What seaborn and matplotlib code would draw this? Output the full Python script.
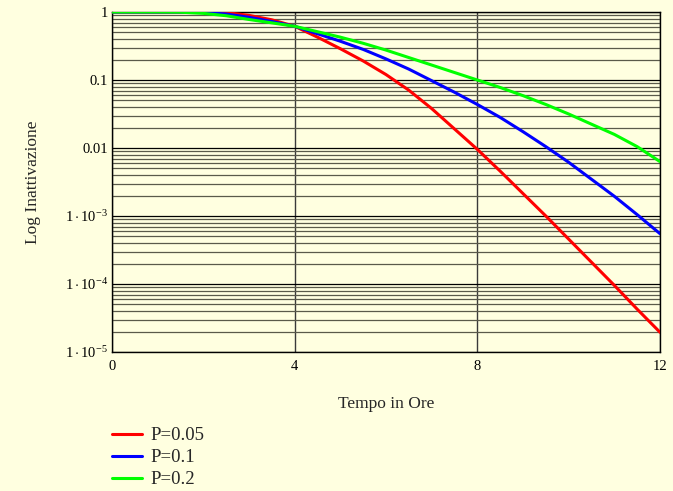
import numpy as np
import pandas as pd
import matplotlib
matplotlib.use('Agg')
import matplotlib.pyplot as plt
from matplotlib.ticker import LogLocator, FixedLocator, FixedFormatter, NullFormatter
import seaborn as sns

# ── Data (log10 of inactivation) ─────────────────────────────
hours = [0, 1, 1.5, 2, 2.5, 3, 3.5, 4, 4.5, 5, 5.5, 6, 6.5, 7, 7.5,
         8, 8.5, 9, 9.5, 10, 10.5, 11, 11.5, 12]
log_p005 = [0, 0, 0, 0, -0.008, -0.05, -0.115, -0.21, -0.37, -0.54, -0.72, -0.92,
            -1.15, -1.42, -1.72, -2.02, -2.34, -2.67, -3.00, -3.34, -3.68, -4.02,
            -4.37, -4.71]
log_p01 = [0, 0, 0, -0.005, -0.03, -0.078, -0.14, -0.21, -0.32, -0.43, -0.55, -0.69,
           -0.84, -1.01, -1.18, -1.36, -1.55, -1.76, -1.98, -2.21, -2.46, -2.71,
           -2.98, -3.26]
log_p02 = [0, 0, -0.003, -0.02, -0.055, -0.11, -0.16, -0.21, -0.29, -0.37, -0.46,
           -0.56, -0.67, -0.78, -0.89, -1.00, -1.11, -1.23, -1.36, -1.50, -1.65,
           -1.80, -1.98, -2.20]
series_labels = ['P=0.05', 'P=0.1', 'P=0.2']
series_colors = ['#FF0000', '#0000FF', '#00FF00']

y_ticks = [1e-5, 1e-4, 1e-3, 1e-2, 1e-1, 1]
y_tick_labels = [r'$1\cdot10^{-5}$', r'$1\cdot10^{-4}$', r'$1\cdot10^{-3}$',
                 '0.01', '0.1', '1']
x_ticks = [0, 4, 8, 12]

BG = '#FFFFE0'

df = pd.DataFrame({
    'Tempo': hours * 3,
    'Inatt': 10 ** np.array(log_p005 + log_p01 + log_p02),
    'P': np.repeat(series_labels, len(hours)),
})

sns.set_theme(style='white')
plt.rcParams['font.family'] = ['Liberation Serif', 'DejaVu Serif']
plt.rcParams['mathtext.fontset'] = 'custom'
plt.rcParams['mathtext.rm'] = 'Liberation Serif'
plt.rcParams['mathtext.it'] = 'Liberation Serif:italic'

fig = plt.figure(figsize=(6.73, 4.91), dpi=100, facecolor=BG)
ax = fig.add_axes([112 / 673, 1 - 352 / 491, 548 / 673, 340 / 491])
ax.set_facecolor(BG)

sns.lineplot(data=df, x='Tempo', y='Inatt', hue='P', hue_order=series_labels,
             palette=series_colors, linewidth=2.2, ax=ax, zorder=3)

ax.set_yscale('log')
ax.set_xlim(0, 12)
ax.set_ylim(1e-5, 1)

# ── Grid ─────────────────────────────────────────────────────
ax.yaxis.set_major_locator(FixedLocator(y_ticks))
ax.yaxis.set_major_formatter(FixedFormatter(y_tick_labels))
ax.yaxis.set_minor_locator(LogLocator(base=10, subs=np.arange(2, 10)))
ax.yaxis.set_minor_formatter(NullFormatter())
ax.xaxis.set_major_locator(FixedLocator(x_ticks))

ax.grid(True, which='major', axis='y', color='black', linewidth=0.9)
ax.grid(True, which='minor', axis='y', color='#5a5a4a', linewidth=0.9)
ax.grid(True, which='major', axis='x', color='#3a3a3a', linewidth=1.0)
ax.set_axisbelow(True)

for s in ax.spines.values():
    s.set_color('black')
    s.set_linewidth(1.0)

ax.tick_params(axis='both', which='both', length=0, labelsize=10.5, colors='black')
ax.tick_params(axis='x', pad=6)
ax.tick_params(axis='y', pad=3)

ax.set_xlabel('Tempo in Ore', fontsize=12.5, labelpad=16)
ax.set_ylabel('Log Inattivazione', fontsize=12.5, labelpad=17)

# ── Legend below the plot ────────────────────────────────────
handles, labels = ax.get_legend_handles_labels()
ax.get_legend().remove()
fig.legend(handles, labels, loc='upper left',
           bbox_to_anchor=(112 / 673, 1 - 427 / 491),
           frameon=False, fontsize=13.5, handlelength=1.6, handletextpad=0.45,
           labelspacing=0.27, borderpad=0, borderaxespad=0)

fig.savefig('out.png', dpi=100, facecolor=BG)
